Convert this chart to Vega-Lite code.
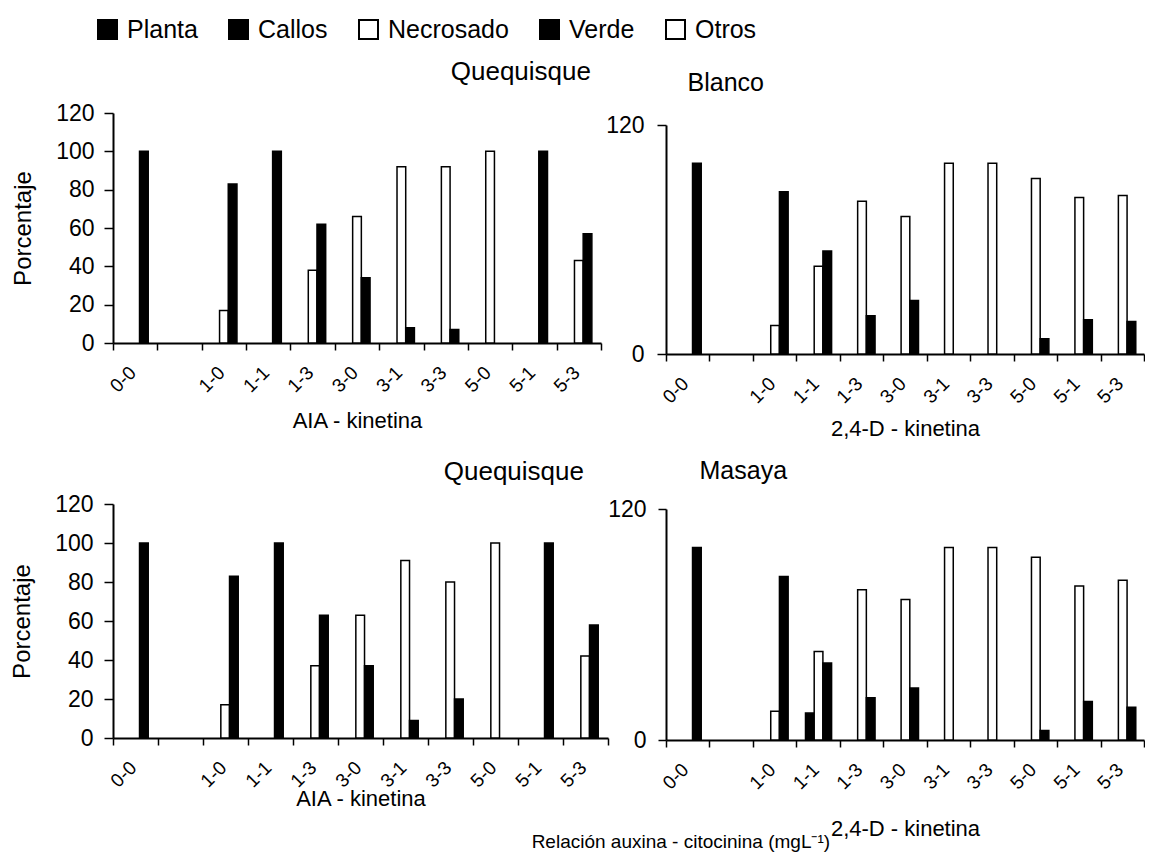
{
  "$schema": "https://vega.github.io/schema/vega-lite/v6.json",
  "padding": {"left": 10, "top": 17, "right": 0, "bottom": 0},
  "config": {
    "font": "Liberation Sans",
    "view": {"stroke": null},
    "axis": {"domainColor": "black", "domainWidth": 2, "tickColor": "black", "tickWidth": 1.5, "labelColor": "black", "titleColor": "black", "titleFontWeight": "normal", "grid": false, "labelFont": "Liberation Sans", "titleFont": "Liberation Sans"},
    "title": {"fontWeight": "normal", "color": "black", "font": "Liberation Sans"}
  },
  "title": {"text": "Relación auxina -  citocinina (mgL⁻¹)", "orient": "bottom", "anchor": "start", "dx": 521, "offset": -7, "fontSize": 19, "baseline": "top"},
  "datasets": {
    "tl": [
      {"trat": "0-0", "serie": "Verde", "pct": 100},
      {"trat": "1-0", "serie": "Necrosado", "pct": 17},
      {"trat": "1-0", "serie": "Verde", "pct": 83},
      {"trat": "1-1", "serie": "Verde", "pct": 100},
      {"trat": "1-3", "serie": "Necrosado", "pct": 38},
      {"trat": "1-3", "serie": "Verde", "pct": 62},
      {"trat": "3-0", "serie": "Necrosado", "pct": 66},
      {"trat": "3-0", "serie": "Verde", "pct": 34},
      {"trat": "3-1", "serie": "Necrosado", "pct": 92},
      {"trat": "3-1", "serie": "Verde", "pct": 8},
      {"trat": "3-3", "serie": "Necrosado", "pct": 92},
      {"trat": "3-3", "serie": "Verde", "pct": 7},
      {"trat": "5-0", "serie": "Necrosado", "pct": 100},
      {"trat": "5-1", "serie": "Verde", "pct": 100},
      {"trat": "5-3", "serie": "Necrosado", "pct": 43},
      {"trat": "5-3", "serie": "Verde", "pct": 57}
    ],
    "tr": [
      {"trat": "0-0", "serie": "Verde", "pct": 100},
      {"trat": "1-0", "serie": "Necrosado", "pct": 15},
      {"trat": "1-0", "serie": "Verde", "pct": 85},
      {"trat": "1-1", "serie": "Necrosado", "pct": 46},
      {"trat": "1-1", "serie": "Verde", "pct": 54},
      {"trat": "1-3", "serie": "Necrosado", "pct": 80},
      {"trat": "1-3", "serie": "Verde", "pct": 20},
      {"trat": "3-0", "serie": "Necrosado", "pct": 72},
      {"trat": "3-0", "serie": "Verde", "pct": 28},
      {"trat": "3-1", "serie": "Necrosado", "pct": 100},
      {"trat": "3-3", "serie": "Necrosado", "pct": 100},
      {"trat": "5-0", "serie": "Necrosado", "pct": 92},
      {"trat": "5-0", "serie": "Verde", "pct": 8},
      {"trat": "5-1", "serie": "Necrosado", "pct": 82},
      {"trat": "5-1", "serie": "Verde", "pct": 18},
      {"trat": "5-3", "serie": "Necrosado", "pct": 83},
      {"trat": "5-3", "serie": "Verde", "pct": 17}
    ],
    "bl": [
      {"trat": "0-0", "serie": "Verde", "pct": 100},
      {"trat": "1-0", "serie": "Necrosado", "pct": 17},
      {"trat": "1-0", "serie": "Verde", "pct": 83},
      {"trat": "1-1", "serie": "Verde", "pct": 100},
      {"trat": "1-3", "serie": "Necrosado", "pct": 37},
      {"trat": "1-3", "serie": "Verde", "pct": 63},
      {"trat": "3-0", "serie": "Necrosado", "pct": 63},
      {"trat": "3-0", "serie": "Verde", "pct": 37},
      {"trat": "3-1", "serie": "Necrosado", "pct": 91},
      {"trat": "3-1", "serie": "Verde", "pct": 9},
      {"trat": "3-3", "serie": "Necrosado", "pct": 80},
      {"trat": "3-3", "serie": "Verde", "pct": 20},
      {"trat": "5-0", "serie": "Necrosado", "pct": 100},
      {"trat": "5-1", "serie": "Verde", "pct": 100},
      {"trat": "5-3", "serie": "Necrosado", "pct": 42},
      {"trat": "5-3", "serie": "Verde", "pct": 58}
    ],
    "br": [
      {"trat": "0-0", "serie": "Verde", "pct": 100},
      {"trat": "1-0", "serie": "Necrosado", "pct": 15},
      {"trat": "1-0", "serie": "Verde", "pct": 85},
      {"trat": "1-1", "serie": "Callos", "pct": 14},
      {"trat": "1-1", "serie": "Necrosado", "pct": 46},
      {"trat": "1-1", "serie": "Verde", "pct": 40},
      {"trat": "1-3", "serie": "Necrosado", "pct": 78},
      {"trat": "1-3", "serie": "Verde", "pct": 22},
      {"trat": "3-0", "serie": "Necrosado", "pct": 73},
      {"trat": "3-0", "serie": "Verde", "pct": 27},
      {"trat": "3-1", "serie": "Necrosado", "pct": 100},
      {"trat": "3-3", "serie": "Necrosado", "pct": 100},
      {"trat": "5-0", "serie": "Necrosado", "pct": 95},
      {"trat": "5-0", "serie": "Verde", "pct": 5},
      {"trat": "5-1", "serie": "Necrosado", "pct": 80},
      {"trat": "5-1", "serie": "Verde", "pct": 20},
      {"trat": "5-3", "serie": "Necrosado", "pct": 83},
      {"trat": "5-3", "serie": "Verde", "pct": 17}
    ]
  },
  "columns": 2,
  "bounds": "flush",
  "align": "each",
  "spacing": {"row": 150, "column": 58},
  "concat": [
    {
      "width": 488, "height": 230,
      "title": {"text": "Quequisque", "anchor": "end", "frame": "group", "offset": -9, "dx": -10, "baseline": "bottom", "fontSize": 26},
      "data": {"name": "tl"},
      "mark": {"type": "bar", "stroke": "black", "strokeWidth": 1.5},
      "encoding": {
        "x": {"field": "trat", "type": "nominal", "sort": null,
          "scale": {"domain": ["0-0", " ", "1-0", "1-1", "1-3", "3-0", "3-1", "3-3", "5-0", "5-1", "5-3"], "paddingInner": 0, "paddingOuter": 0},
          "axis": {"title": "AIA - kinetina", "titleFontSize": 22, "titlePadding": 15, "labelAngle": -45, "labelAlign": "right", "labelBaseline": "top", "labelFontSize": 19, "labelPadding": 13, "labelOffset": -9, "tickSize": 7, "tickBand": "extent", "labelOverlap": false}},
        "xOffset": {"field": "serie", "type": "nominal", "scale": {"domain": ["Planta", "Callos", "Necrosado", "Verde", "Otros"], "paddingInner": 0, "paddingOuter": 0.05}},
        "y": {"field": "pct", "type": "quantitative", "scale": {"domain": [0, 120], "nice": false},
          "axis": {"title": "Porcentaje", "titleFontSize": 24, "titlePadding": 20, "values": [0, 20, 40, 60, 80, 100, 120], "labelFontSize": 23, "labelPadding": 10, "tickSize": 9, "labelFlush": false}},
        "color": {"field": "serie", "type": "nominal",
          "scale": {"domain": ["Planta", "Callos", "Necrosado", "Verde", "Otros"], "range": ["black", "black", "white", "black", "white"]},
          "legend": {"orient": "none", "legendX": -18, "legendY": -96, "direction": "horizontal", "title": null, "symbolType": "square", "symbolSize": 361, "symbolStrokeColor": "black", "symbolStrokeWidth": 2, "labelFontSize": 25, "labelColor": "black", "labelFont": "Liberation Sans", "columnPadding": 27, "labelOffset": 7, "padding": 0}}
      }
    },
    {
      "width": 478, "height": 241,
      "data": {"name": "tr"},
      "mark": {"type": "bar", "stroke": "black", "strokeWidth": 1.5},
      "encoding": {
        "x": {"field": "trat", "type": "nominal", "sort": null,
          "scale": {"domain": ["0-0", " ", "1-0", "1-1", "1-3", "3-0", "3-1", "3-3", "5-0", "5-1", "5-3"], "paddingInner": 0, "paddingOuter": 0},
          "axis": {"title": "2,4-D - kinetina", "titleFontSize": 22, "titlePadding": 12, "labelAngle": -45, "labelAlign": "right", "labelBaseline": "top", "labelFontSize": 19, "labelPadding": 13, "labelOffset": -9, "tickSize": 7, "tickBand": "extent", "labelOverlap": false}},
        "xOffset": {"field": "serie", "type": "nominal", "scale": {"domain": ["Planta", "Callos", "Necrosado", "Verde", "Otros"], "paddingInner": 0, "paddingOuter": 0.05}},
        "y": {"field": "pct", "type": "quantitative", "scale": {"domain": [0, 120], "nice": false, "range": [241, 12]},
          "axis": {"title": "Blanco", "titleFontSize": 25, "titleAngle": 0, "titleAlign": "left", "titleBaseline": "alphabetic", "titleX": 21, "titleY": -23, "values": [0, 120], "labelFontSize": 23, "labelPadding": 13, "tickSize": 9, "labelFlush": false}},
        "color": {"field": "serie", "type": "nominal",
          "scale": {"domain": ["Planta", "Callos", "Necrosado", "Verde", "Otros"], "range": ["black", "black", "white", "black", "white"]}}
      }
    },
    {
      "width": 495, "height": 234,
      "title": {"text": "Quequisque", "anchor": "end", "frame": "group", "offset": -18, "dx": -24, "baseline": "bottom", "fontSize": 26},
      "data": {"name": "bl"},
      "mark": {"type": "bar", "stroke": "black", "strokeWidth": 1.5},
      "encoding": {
        "x": {"field": "trat", "type": "nominal", "sort": null,
          "scale": {"domain": ["0-0", " ", "1-0", "1-1", "1-3", "3-0", "3-1", "3-3", "5-0", "5-1", "5-3"], "paddingInner": 0, "paddingOuter": 0},
          "axis": {"title": "AIA - kinetina", "titleFontSize": 22, "titlePadding": -2, "labelAngle": -45, "labelAlign": "right", "labelBaseline": "top", "labelFontSize": 19, "labelPadding": 13, "labelOffset": -9, "tickSize": 7, "tickBand": "extent", "labelOverlap": false}},
        "xOffset": {"field": "serie", "type": "nominal", "scale": {"domain": ["Planta", "Callos", "Necrosado", "Verde", "Otros"], "paddingInner": 0, "paddingOuter": 0.05}},
        "y": {"field": "pct", "type": "quantitative", "scale": {"domain": [0, 120], "nice": false},
          "axis": {"title": "Porcentaje", "titleFontSize": 24, "titlePadding": 20, "values": [0, 20, 40, 60, 80, 100, 120], "labelFontSize": 23, "labelPadding": 11, "tickSize": 9, "labelFlush": false}},
        "color": {"field": "serie", "type": "nominal",
          "scale": {"domain": ["Planta", "Callos", "Necrosado", "Verde", "Otros"], "range": ["black", "black", "white", "black", "white"]}}
      }
    },
    {
      "width": 478, "height": 236,
      "data": {"name": "br"},
      "mark": {"type": "bar", "stroke": "black", "strokeWidth": 1.5},
      "encoding": {
        "x": {"field": "trat", "type": "nominal", "sort": null,
          "scale": {"domain": ["0-0", " ", "1-0", "1-1", "1-3", "3-0", "3-1", "3-3", "5-0", "5-1", "5-3"], "paddingInner": 0, "paddingOuter": 0},
          "axis": {"title": "2,4-D - kinetina", "titleFontSize": 22, "titlePadding": 26, "labelAngle": -45, "labelAlign": "right", "labelBaseline": "top", "labelFontSize": 19, "labelPadding": 13, "labelOffset": -9, "tickSize": 7, "tickBand": "extent", "labelOverlap": false}},
        "xOffset": {"field": "serie", "type": "nominal", "scale": {"domain": ["Planta", "Callos", "Necrosado", "Verde", "Otros"], "paddingInner": 0, "paddingOuter": 0.05}},
        "y": {"field": "pct", "type": "quantitative", "scale": {"domain": [0, 120], "nice": false, "range": [236, 5]},
          "axis": {"title": "Masaya", "titleFontSize": 25, "titleAngle": 0, "titleAlign": "left", "titleBaseline": "alphabetic", "titleX": 33, "titleY": -26, "values": [0, 120], "labelFontSize": 23, "labelPadding": 12, "tickSize": 8, "labelFlush": false}},
        "color": {"field": "serie", "type": "nominal",
          "scale": {"domain": ["Planta", "Callos", "Necrosado", "Verde", "Otros"], "range": ["black", "black", "white", "black", "white"]}}
      }
    }
  ]
}
